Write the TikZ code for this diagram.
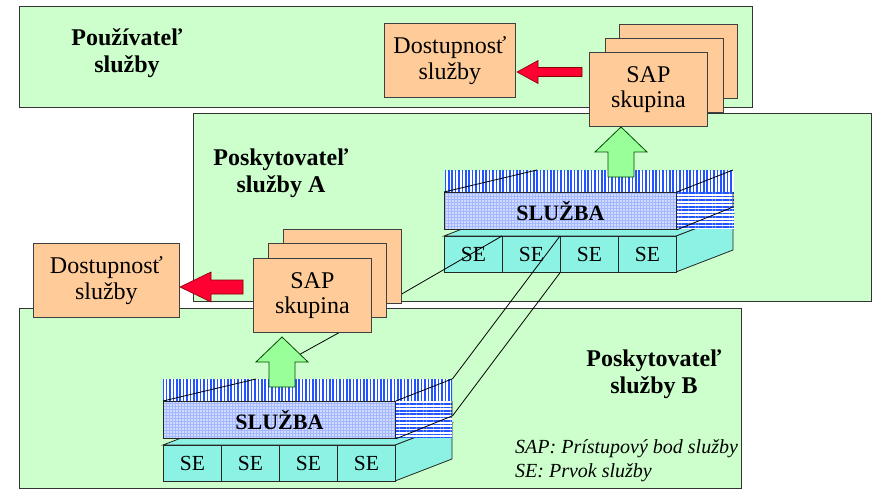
\documentclass[tikz,border=0pt]{standalone}
\usepackage{fontspec}
\setmainfont{Liberation Serif}
\usetikzlibrary{patterns.meta}
\definecolor{pgreen}{HTML}{CCFFCC}
\definecolor{porange}{HTML}{FFCC99}
\definecolor{pcyan}{HTML}{8CF2E4}
\definecolor{agreen}{HTML}{99FF99}
\definecolor{ared}{HTML}{FF0033}
\definecolor{pblue}{HTML}{2255FF}
\definecolor{dblue}{HTML}{A4B8FF}
\newcommand\servblock[2]{%
\begin{scope}[shift={#1}]
  % SE cube
  \fill[pcyan,draw=black!85,line width=0.8pt] (232,66) -- (289,44) -- (289,80) -- (232,102) -- cycle;
  \fill[pcyan,draw=black!85,line width=0.8pt] (0,66) -- (232,66) -- (289,44) -- (57,44) -- cycle;
  \node[cell] (#2se1) at (0,66) {SE};
  \node[cell] (#2se2) at (58,66) {SE};
  \node[cell] (#2se3) at (116,66) {SE};
  \node[cell] (#2se4) at (174,66) {SE};
  % service cube
  \node[vstripe, minimum width=289pt, minimum height=22pt] (#2top) at (0,0) {};
  \node[hstripe, minimum width=57pt, minimum height=36pt] (#2side) at (232,22) {};
  \node[dotface] (#2front) at (0,22) {SLUŽBA};
  \draw[edge] (#2front.north west) -- (93,0);
  \draw[edge] (#2front.north east) -- (289,0);
  \draw[edge] (#2front.south east) -- (289,37) -- (289,22);
\end{scope}}
\newcommand\uparr[1]{%
  \fill[agreen,draw=black!70!green,line width=0.8pt] #1 -- ++(26,25) -- ++(-13,0) -- ++(0,25) -- ++(-26,0) -- ++(0,-25) -- ++(-13,0) -- cycle;}
\begin{document}
\begin{tikzpicture}[x=1pt,y=-1pt,
  panel/.style={draw=black!80,line width=1pt,fill=pgreen,inner sep=0pt,anchor=north west},
  obox/.style={draw=black!75,line width=0.8pt,fill=porange,inner sep=0pt,anchor=north west,align=center,
     font=\fontsize{24}{25.5}\selectfont},
  sapbox/.style={obox,minimum width=118pt,minimum height=74pt},
  lbl/.style={align=center,inner sep=0pt,font=\fontsize{24}{27}\selectfont\bfseries},
  cell/.style={draw=black!85,line width=0.8pt,fill=pcyan,anchor=north west,inner sep=0pt,
     minimum width=58pt,minimum height=36pt,font=\fontsize{21.5}{22}\selectfont},
  vstripe/.style={anchor=north west,inner sep=0pt,preaction={fill=white},
     pattern={Lines[angle=90,distance=3.4pt,line width=1.6pt]},pattern color=pblue},
  hstripe/.style={anchor=north west,inner sep=0pt,preaction={fill=white},
     pattern={Lines[angle=0,distance=3.4pt,line width=1.6pt]},pattern color=pblue},
  dotface/.style={draw=black!85,line width=0.8pt,anchor=north west,inner sep=0pt,preaction={fill=dblue},
     pattern={Dots[distance=3pt,radius=0.85pt]},pattern color=white,
     minimum width=232pt,minimum height=37pt,font=\fontsize{22}{22}\selectfont\bfseries},
  edge/.style={draw=black,line width=0.8pt},
  redarr/.style={fill=ared,draw=red!50!black,line width=0.6pt},
  legend/.style={anchor=base west,inner sep=0pt,font=\fontsize{20}{20}\selectfont\itshape}]
\useasboundingbox (0,0) rectangle (872,489);
% panels
\node[panel,minimum width=733pt,minimum height=101pt] (pU) at (19,6) {};
\node[panel,minimum width=678pt,minimum height=188pt] (pA) at (193,113) {};
\node[panel,minimum width=722pt,minimum height=180pt] (pB) at (19,308) {};
\node[lbl] (lU) at (127,53) {Používateľ\\služby};
\node[lbl] (lA) at (281,173) {Poskytovateľ\\služby A};
\node[lbl] (lB) at (654,374) {Poskytovateľ\\služby B};
% service blocks
\servblock{(444,170)}{A}
\servblock{(163,379)}{B}
% connectors
\coordinate (c1) at (400,295);
\coordinate (c5) at (342,331);
\coordinate (c6) at (286,362);
\draw[edge] (c1) -- (Ase2.north west);
\draw[edge] (Ase3.north west) -- (Btop.north east);
\draw[edge] (Ase3.south west) -- (Bside.north east |- 0,416);
\draw[edge] (c5) -- (c6);
% green arrows
\uparr{(621,127)}
\uparr{(282,337)}
% top user side
\node[obox,minimum width=131pt,minimum height=74pt] (dU) at (384,23) {Dostupnosť\\služby};
\node[sapbox] (sapU3) at (619,24) {};
\node[sapbox] (sapU2) at (605,38) {};
\node[sapbox] (sapU1) at (589,52) {SAP\\skupina};
\filldraw[redarr] (517,72) -- (538,60.5) -- (538,67.5) -- (582,67.5) -- (582,76.5) -- (538,76.5) -- (538,83.5) -- cycle;
% left side
\node[obox,minimum width=146pt,minimum height=74pt] (dL) at (33,243) {Dostupnosť\\služby};
\node[sapbox] (sapL3) at (283,229) {};
\node[sapbox] (sapL2) at (268,243) {};
\node[sapbox] (sapL1) at (253,258) {SAP\\skupina};
\filldraw[redarr] (180,287) -- (211,272) -- (211,280) -- (243,280) -- (243,294) -- (211,294) -- (211,302) -- cycle;
% legend
\node[legend] (lg1) at (515,453) {SAP: Prístupový bod služby};
\node[legend] (lg2) at (515,477) {SE: Prvok služby};
\end{tikzpicture}
\end{document}
